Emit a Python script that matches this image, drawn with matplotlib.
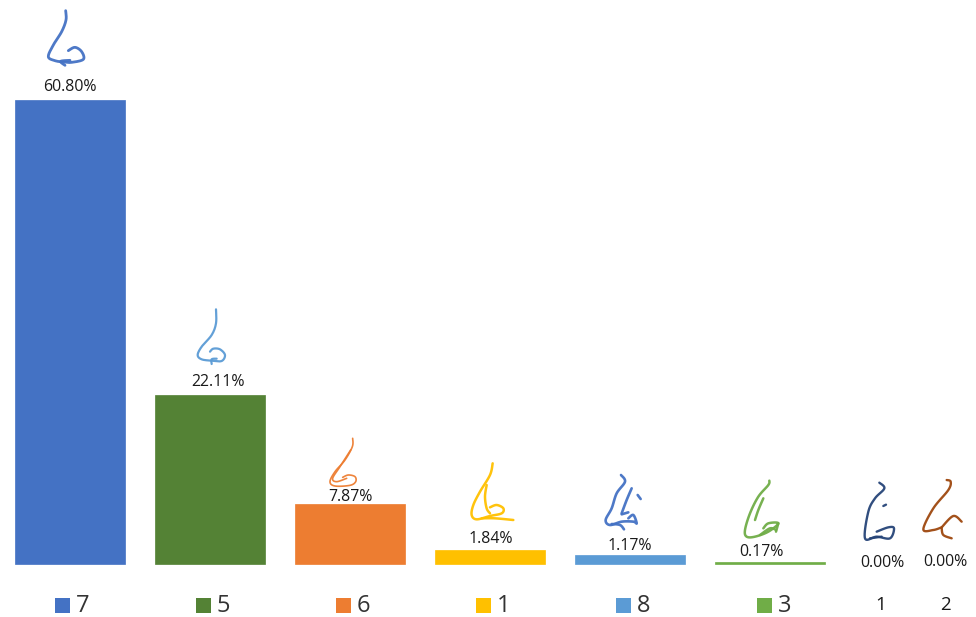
import numpy as np
import matplotlib
matplotlib.use('Agg')
import matplotlib.pyplot as plt
from matplotlib.patches import Rectangle

plt.rcParams['font.family'] = ['Open Sans', 'DejaVu Sans']

# chart data, biggest share first
categories = ['7', '5', '6', '1', '8', '3']
values = [60.80, 22.11, 7.87, 1.84, 1.17, 0.17]
colors = ['#4472C4', '#548235', '#ED7D31', '#FFC000', '#5B9BD5', '#70AD47']
empty_categories = ['1', '2']
empty_values = [0.00, 0.00]


# smooth a hand traced stroke, points are in zoomed crop coords
def smooth(pts, n=12):
    p = np.array(pts, dtype=float)
    p = np.vstack([p[0], p, p[-1]])
    out = []
    for i in range(1, len(p) - 2):
        for t in np.linspace(0, 1, n, endpoint=False):
            a = 2 * p[i] + (p[i + 1] - p[i - 1]) * t
            b = (2 * p[i - 1] - 5 * p[i] + 4 * p[i + 1] - p[i + 2]) * t ** 2
            c = (-p[i - 1] + 3 * p[i] - 3 * p[i + 1] + p[i + 2]) * t ** 3
            out.append(0.5 * (a + b + c))
    out.append(p[-2])
    return np.array(out)


def nose(ax, strokes, off, color, lw=1.8):
    for s in strokes:
        xy = smooth(s) / 3 + off
        ax.plot(xy[:, 0], xy[:, 1], color=color, lw=lw, solid_capstyle='round', alpha=0.95)


fig = plt.figure(figsize=(9.76, 6.17), dpi=100)

# bars: 140 px between categories, baseline at y=564, 60.8 reaches y=100
ax = fig.add_axes([0, 0, 1, 1])
scale = 60.8 / 464
ax.bar(range(len(values)), values, width=110 / 140, color=colors, edgecolor=colors, linewidth=0.5)
ax.set_xlim(-70.2 / 140, (976 - 70.2) / 140)
ax.set_ylim(-(617 - 563.6) * scale, 563.6 * scale)
ax.axis('off')

# overlay in image pixels for the labels and the nose icons
ov = fig.add_axes([0, 0, 1, 1])
ov.set_xlim(0, 976)
ov.set_ylim(617, 0)
ov.axis('off')
ov.patch.set_alpha(0)

label_x = [70, 218, 350, 491, 630, 761]
label_y = [87, 382, 497, 539, 546, 552]
for x, y, v in zip(label_x, label_y, values):
    ov.text(x, y, f'{v:.2f}%', ha='center', va='center', fontsize=11.4, color='#1a1a1a')
for x, y, v in zip([882, 945], [563, 562], empty_values):
    ov.text(x, y, f'{v:.2f}%', ha='center', va='center', fontsize=11.4, color='#1a1a1a')

# legend row
square_x = [55, 196, 336, 476, 616, 757]
for x, name, c in zip(square_x, categories, colors):
    ov.add_patch(Rectangle((x, 598), 15, 15, color=c, linewidth=0))
    ov.text(x + 21, 606, name, ha='left', va='center', fontsize=17, color='#333333')
for x, name in zip([881, 945], empty_categories):
    ov.text(x, 605, name, ha='center', va='center', fontsize=13.5, color='#1a1a1a')

# nose icons
nose(ov, [[(137, 32), (138, 60), (125, 95), (100, 135), (85, 170), (105, 182), (130, 186), (155, 187),
           (190, 178), (185, 155), (165, 142), (145, 152)],
          [(135, 196), (122, 184), (150, 181)]], (20, 0), '#4472C4', 2.0)
nose(ov, [[(108, 28), (108, 70), (95, 105), (65, 140), (53, 165), (65, 178), (95, 182), (125, 183),
           (135, 165), (120, 148), (100, 146), (90, 155)],
          [(95, 192), (95, 178), (110, 176)]], (180, 300), '#5B9BD5', 1.6)
nose(ov, [[(518, 415), (517, 440), (495, 480), (465, 515), (450, 545), (465, 558), (510, 556),
           (527, 545), (525, 530), (505, 525), (488, 532)],
          [(512, 450), (480, 500), (458, 535), (470, 545), (500, 535)]], (180, 300), '#ED7D31', 1.2)
nose(ov, [[(158, 40), (150, 75), (120, 125), (100, 165), (95, 195), (110, 208), (150, 198), (185, 190),
           (190, 175), (170, 165), (150, 172)],
          [(140, 105), (135, 140), (140, 175), (150, 190)],
          [(125, 205), (165, 205), (220, 210)]], (440, 450), '#FFC000', 1.8)
nose(ov, [[(543, 75), (555, 95), (530, 130), (515, 175), (497, 210), (510, 225), (545, 215), (580, 215),
           (590, 220), (580, 195), (565, 205)],
          [(515, 222), (540, 225), (552, 238)],
          [(575, 115), (560, 150), (545, 190)],
          [(593, 135), (602, 147)],
          [(545, 193), (565, 187)]], (440, 450), '#4472C4', 1.9)
nose(ov, [[(208, 32), (205, 45), (175, 80), (150, 130), (135, 180), (140, 200), (165, 200), (205, 185),
           (235, 160), (205, 160), (190, 175)],
          [(190, 85), (175, 120), (165, 150)],
          [(235, 160), (228, 185)],
          [(180, 195), (210, 175), (228, 180)]], (700, 470), '#70AD47', 1.8)
nose(ov, [[(538, 38), (553, 55), (525, 85), (505, 125), (495, 205), (530, 200), (570, 205), (582, 175),
           (565, 172), (530, 185)],
          [(550, 108), (558, 104)],
          [(510, 205), (545, 200)]], (700, 470), '#264478', 1.7)
nose(ov, [[(740, 30), (752, 35), (745, 60), (700, 115), (670, 178), (700, 180), (725, 172)],
          [(725, 172), (760, 138), (785, 155)],
          [(725, 175), (730, 195), (755, 205)]], (700, 470), '#9E480E', 1.7)

fig.savefig('out.png', dpi=100, facecolor='white')
